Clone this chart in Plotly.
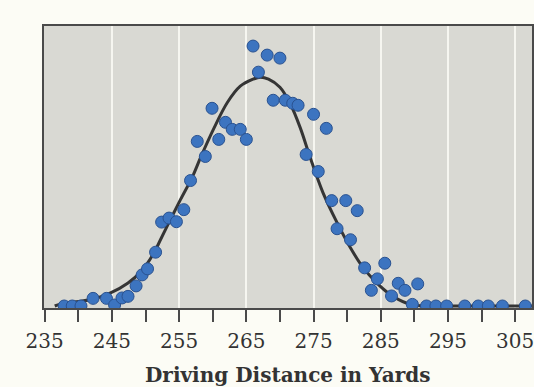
import plotly.graph_objects as go

# Observed points (driving distance in yards, relative frequency units)
dist = [237.9, 239.1, 240.4, 242.2, 244.2, 245.4, 246.5, 247.4, 248.6, 249.5,
        250.3, 251.5, 252.4, 253.5, 254.6, 255.7, 256.7, 257.7, 258.9, 259.9,
        260.9, 261.9, 262.9, 264.1, 265.0, 266.0, 266.8, 268.1, 270.0, 269.0,
        270.8, 271.9, 272.7, 275.0, 276.9, 273.9, 275.7, 277.7, 279.8, 281.5,
        278.5, 280.5, 282.6, 285.6, 284.5, 283.6, 287.6, 286.6, 288.6, 290.5,
        289.7, 291.8, 293.2, 294.8, 297.5, 299.5, 301.0, 303.1, 306.5]
freq = [0.0, 0.0, 0.0, 0.38, 0.38, 0.05, 0.4, 0.48, 1.0, 1.55,
        1.85, 2.68, 4.18, 4.38, 4.2, 4.8, 6.25, 8.2, 7.45, 9.85,
        8.3, 9.15, 8.8, 8.8, 8.3, 12.95, 11.65, 12.5, 12.35, 10.25,
        10.25, 10.1, 10.0, 9.55, 8.85, 7.55, 6.7, 5.25, 5.25, 4.75,
        3.85, 3.3, 1.9, 2.13, 1.35, 0.78, 1.13, 0.5, 0.78, 1.1,
        0.08, 0.0, 0.0, 0.0, 0.0, 0.0, 0.0, 0.0, 0.0]

# Fitted curve
curve_x = [236.5, 237.4, 242.3, 244.8, 247.4, 249.3, 251.1, 252.3, 253.7, 255.2,
           257.0, 258.2, 260.1, 262.2, 264.1, 266.0, 267.1, 268.3, 270.0, 271.5,
           273.0, 274.5, 276.4, 278.5, 280.4, 282.3, 284.4, 286.3, 288.8, 291.2,
           296.0, 308.0]
curve_y = [0.0, 0.1, 0.35, 0.65, 1.15, 1.7, 2.55, 3.35, 4.3, 5.3,
           6.45, 7.4, 8.8, 10.15, 10.95, 11.3, 11.4, 11.3, 10.9, 10.1,
           8.9, 7.4, 5.65, 4.15, 2.95, 1.95, 1.15, 0.6, 0.15, 0.0,
           0.0, 0.0]

tick_vals = [235, 245, 255, 265, 275, 285, 295, 305]
tick_text = ["235", "245", "255", "265", "275", "285", "295", "305"]
minor_vals = [240, 250, 260, 270, 280, 290, 300]
x_title = "Driving Distance in Yards"

fig = go.Figure()
fig.add_trace(go.Scatter(x=curve_x, y=curve_y, mode="lines",
                         line=dict(color="#353535", width=3, shape="spline", smoothing=1.0),
                         hoverinfo="skip", showlegend=False))
fig.add_trace(go.Scatter(x=dist, y=freq, mode="markers",
                         marker=dict(size=12, color="#3c74c0",
                                     line=dict(color="#2a5290", width=1)),
                         showlegend=False))

fig.update_layout(
    width=534, height=387,
    margin=dict(l=44, r=0, t=26, b=79),
    paper_bgcolor="#fcfcf5",
    plot_bgcolor="#d9d9d3",
    xaxis=dict(range=[234.9, 307.5], tickmode="array", tickvals=tick_vals, ticktext=tick_text,
               showgrid=True, gridcolor="#f6f6f0", gridwidth=2,
               showline=True, linecolor="#4a4a4a", linewidth=2, mirror=True,
               ticks="outside", ticklen=12, tickwidth=1.5, tickcolor="#4a4a4a",
               minor=dict(ticks="outside", tickmode="array", tickvals=minor_vals,
                          ticklen=12, tickwidth=1.5, tickcolor="#4a4a4a", showgrid=False),
               tickfont=dict(family="DejaVu Serif", size=20, color="#333333"),
               ticklabelstandoff=2, ticklabeloverflow="allow",
               zeroline=False, fixedrange=True),
    yaxis=dict(range=[-0.1, 13.95], showticklabels=False, showgrid=False, ticks="",
               showline=True, linecolor="#4a4a4a", linewidth=2, mirror=True,
               zeroline=False, fixedrange=True),
    annotations=[dict(text="<b>" + x_title + "</b>", xref="paper", yref="paper", x=0.5, y=-0.2376,
                      xanchor="center", yanchor="middle", showarrow=False,
                      font=dict(family="DejaVu Serif", size=20, color="#333333"))],
)

fig.write_html("out.html", config={"displayModeBar": False},
               post_script="document.body.style.margin='0';document.body.style.padding='0';")
